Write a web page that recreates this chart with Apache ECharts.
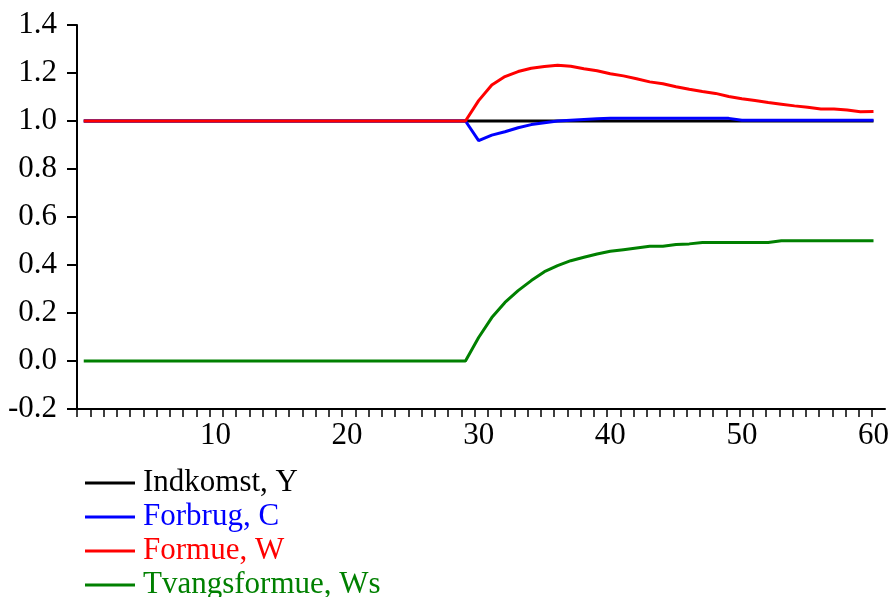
<!DOCTYPE html>
<html>
<head>
<meta charset="utf-8">
<script src="https://cdn.jsdelivr.net/npm/echarts@6/dist/echarts.min.js"></script>
<style>html,body{margin:0;padding:0;background:#fff}#c{width:892px;height:597px}</style>
</head>
<body>
<div id="c"></div>
<script>
var periods = [0,1,2,3,4,5,6,7,8,9,10,11,12,13,14,15,16,17,18,19,20,21,22,23,24,25,26,27,28,29,30,31,32,33,34,35,36,37,38,39,40,41,42,43,44,45,46,47,48,49,50,51,52,53,54,55,56,57,58,59,60];
var indkomstY = [1,1,1,1,1,1,1,1,1,1,1,1,1,1,1,1,1,1,1,1,1,1,1,1,1,1,1,1,1,1,1,1,1,1,1,1,1,1,1,1,1,1,1,1,1,1,1,1,1,1,1,1,1,1,1,1,1,1,1,1,1];
var forbrugC = [1,1,1,1,1,1,1,1,1,1,1,1,1,1,1,1,1,1,1,1,1,1,1,1,1,1,1,1,1,1,
  0.918,0.941,0.955,0.972,0.985,0.993,1.0,1.003,1.006,1.009,
  1.011,1.011,1.011,1.011,1.011,1.011,1.011,1.011,1.011,1.011,
  1.003,1.003,1.003,1.003,1.003,1.003,1.003,1.003,1.003,1.003,1.003];
var formueW = [1,1,1,1,1,1,1,1,1,1,1,1,1,1,1,1,1,1,1,1,1,1,1,1,1,1,1,1,1,1,
  1.085,1.15,1.185,1.206,1.22,1.227,1.232,1.228,1.218,1.209,
  1.197,1.188,1.176,1.163,1.155,1.143,1.132,1.123,1.115,1.102,
  1.093,1.085,1.077,1.07,1.063,1.057,1.05,1.05,1.046,1.039,1.04];
var tvangsformueWs = [0,0,0,0,0,0,0,0,0,0,0,0,0,0,0,0,0,0,0,0,0,0,0,0,0,0,0,0,0,0,
  0.098,0.181,0.244,0.293,0.335,0.372,0.397,0.418,0.432,0.446,
  0.457,0.464,0.471,0.478,0.478,0.485,0.488,0.494,0.494,0.494,
  0.494,0.494,0.494,0.501,0.501,0.501,0.501,0.501,0.501,0.501,0.501];
var seriesNames = ['Indkomst, Y','Forbrug, C','Formue, W','Tvangsformue, Ws'];
var seriesColors = ['#000000','#0000ff','#ff0000','#008000'];
var xTickLabels = [10,20,30,40,50,60];
var minorTicks = [];
for (var i = 0; i <= 60; i++) minorTicks.push(i);

var FONT = "'Liberation Serif','Times New Roman',serif";
function pairs(arr){ return periods.map(function(t,i){ return [t, arr[i]]; }); }
var allData = [indkomstY, forbrugC, formueW, tvangsformueWs];

var chart = echarts.init(document.getElementById('c'), null, {renderer:'canvas'});
chart.setOption({
  animation: false,
  backgroundColor: '#fff',
  grid: [
    {left: 83.75, right: 14.75, top: 25, bottom: 188},
    {left: 77, width: 808, top: 25, bottom: 188}
  ],
  xAxis: [
    {type:'value', gridIndex:0, min:0, max:60, interval:10,
     axisLine:{show:false}, axisTick:{show:false}, splitLine:{show:false},
     axisLabel:{show:true, margin:11, color:'#000', fontFamily:FONT, fontSize:31,
       showMinLabel:false,
       formatter:function(v){ return xTickLabels.indexOf(v) >= 0 ? String(v) : ''; }}},
    {type:'value', gridIndex:1, min:0, max:60.98,
     axisLine:{show:true, onZero:false, lineStyle:{color:'#000', width:2}},
     axisTick:{show:true, inside:false, length:8, customValues:minorTicks, lineStyle:{color:'#000', width:1.5}},
     axisLabel:{show:false}, splitLine:{show:false}}
  ],
  yAxis: [
    {type:'value', gridIndex:0, min:-0.2, max:1.4, interval:0.2, offset:6.75,
     axisLine:{show:true, onZero:false, lineStyle:{color:'#000', width:2}},
     axisTick:{show:true, inside:false, length:10, lineStyle:{color:'#000', width:2}},
     splitLine:{show:false},
     axisLabel:{margin:20, color:'#000', fontFamily:FONT, fontSize:31,
       formatter:function(v){ return v.toFixed(1); }}},
    {type:'value', gridIndex:1, min:-0.2, max:1.4, show:false}
  ],
  legend: {
    orient:'vertical', left:85, top:466, height:200, padding:0, itemGap:0, itemWidth:50, itemHeight:3,
    icon:'rect',
    textStyle:{fontFamily:FONT, fontSize:31, lineHeight:34, padding:[0,0,0,3]},
    data: seriesNames.map(function(n,i){ return {name:n, textStyle:{color:seriesColors[i]}}; })
  },
  series: seriesNames.map(function(n,i){
    return {name:n, type:'line', xAxisIndex:0, yAxisIndex:0, data:pairs(allData[i]),
      showSymbol:false, symbol:'none', color:seriesColors[i],
      lineStyle:{color:seriesColors[i], width:3}, z: 2 + i};
  })
});
</script>
</body>
</html>
